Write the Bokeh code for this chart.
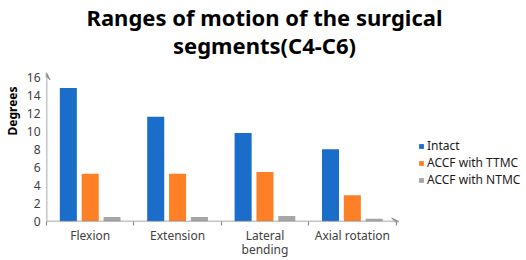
from bokeh.plotting import figure
from bokeh.models import (Range1d, FixedTicker, Legend, LegendItem, Arrow, VeeHead,
                          Label, ColumnDataSource)
from bokeh.embed import file_html
from bokeh.resources import INLINE

title_lines = ["Ranges of motion of the surgical", "segments(C4-C6)"]
categories = ["Flexion", "Extension", "Lateral\nbending", "Axial rotation"]
intact = [14.8, 11.6, 9.8, 8.0]
ttmc = [5.3, 5.3, 5.5, 2.9]
ntmc = [0.5, 0.5, 0.6, 0.3]
series_names = ["Intact", "ACCF with TTMC", "ACCF with NTMC"]
series_colors = ["#1a6dc8", "#fd7f26", "#a6a6a6"]
y_ticks = [0, 2, 4, 6, 8, 10, 12, 14, 16]

FONT = "Noto Sans"
AXIS_GRAY = "#8c8c8c"
Y_AXIS_TOP = 16.5
X_AXIS_END = 4.03

# frame spans the canvas right of / above the axes so the legend and title fit in it
p = figure(width=526, height=260, output_backend="svg", toolbar_location=None,
           x_range=Range1d(0, 5.493), y_range=Range1d(0, 24.5),
           min_border_left=44, min_border_right=0, min_border_top=0,
           min_border_bottom=38)
p.outline_line_color = None
p.grid.visible = False
p.background_fill_color = "white"
p.border_fill_color = "white"

centers = [i + 0.5 for i in range(len(categories))]
offsets = [-0.25, 0.0, 0.25]
items = []
for vals, name, color, off in zip([intact, ttmc, ntmc], series_names, series_colors, offsets):
    src = ColumnDataSource(dict(x=[c + off for c in centers], top=vals))
    r = p.vbar(x="x", top="top", width=0.195, bottom=0, source=src,
               fill_color=color, line_color=None)
    items.append(LegendItem(label=name, renderers=[r]))

# x axis (line drawn by arrow below)
xa = p.xaxis[0]
xa.ticker = FixedTicker(ticks=centers, minor_ticks=list(range(len(categories) + 1)))
xa.major_label_overrides = {c: lab for c, lab in zip(centers, categories)}
xa.major_tick_line_color = None
xa.major_tick_out = 0
xa.major_tick_in = 0
xa.minor_tick_line_color = AXIS_GRAY
xa.minor_tick_line_width = 1.2
xa.minor_tick_out = 4
xa.minor_tick_in = 0
xa.axis_line_color = None
xa.major_label_text_font = FONT
xa.major_label_text_font_size = "12px"
xa.major_label_text_line_height = 0.85
xa.major_label_text_color = "#404040"
xa.major_label_standoff = 1

# y axis
ya = p.yaxis[0]
ya.ticker = FixedTicker(ticks=y_ticks)
ya.minor_tick_line_color = None
ya.major_tick_line_color = None
ya.major_tick_out = 0
ya.major_tick_in = 0
ya.axis_line_color = None
ya.major_label_text_font = FONT
ya.major_label_text_font_size = "12px"
ya.major_label_text_color = "#404040"
ya.major_label_standoff = 6
ya.axis_label = "Degrees"
ya.axis_label_text_font = FONT
ya.axis_label_text_font_style = "bold"
ya.axis_label_text_font_size = "12px"
ya.axis_label_text_color = "black"
ya.axis_label_standoff = 3

# axis lines with arrow heads
p.add_layout(Arrow(x_start=0, y_start=0, x_end=0, y_end=Y_AXIS_TOP,
                   line_color=AXIS_GRAY, line_width=1.5,
                   end=VeeHead(size=7, fill_color=AXIS_GRAY, line_color=AXIS_GRAY)))
p.add_layout(Arrow(x_start=0, y_start=0, x_end=X_AXIS_END, y_end=0,
                   line_color=AXIS_GRAY, line_width=1.5,
                   end=VeeHead(size=7, fill_color=AXIS_GRAY, line_color=AXIS_GRAY)))

legend = Legend(items=items, location=(372, 33), orientation="vertical",
                label_text_font=FONT, label_text_font_size="12px",
                label_text_color="#1a1a1a", glyph_width=6, glyph_height=6,
                label_standoff=3, spacing=0, padding=0, margin=0, label_height=12,
                border_line_color=None, background_fill_alpha=0)
p.add_layout(legend)

for txt, ty in zip(title_lines, [205, 177]):
    p.add_layout(Label(x=218, y=ty, x_units="screen", y_units="screen", text=txt,
                       text_align="center", text_baseline="middle", text_font=FONT,
                       text_font_style="bold", text_font_size="22px", text_color="black"))

open("out.html", "w").write(file_html(p, INLINE))
